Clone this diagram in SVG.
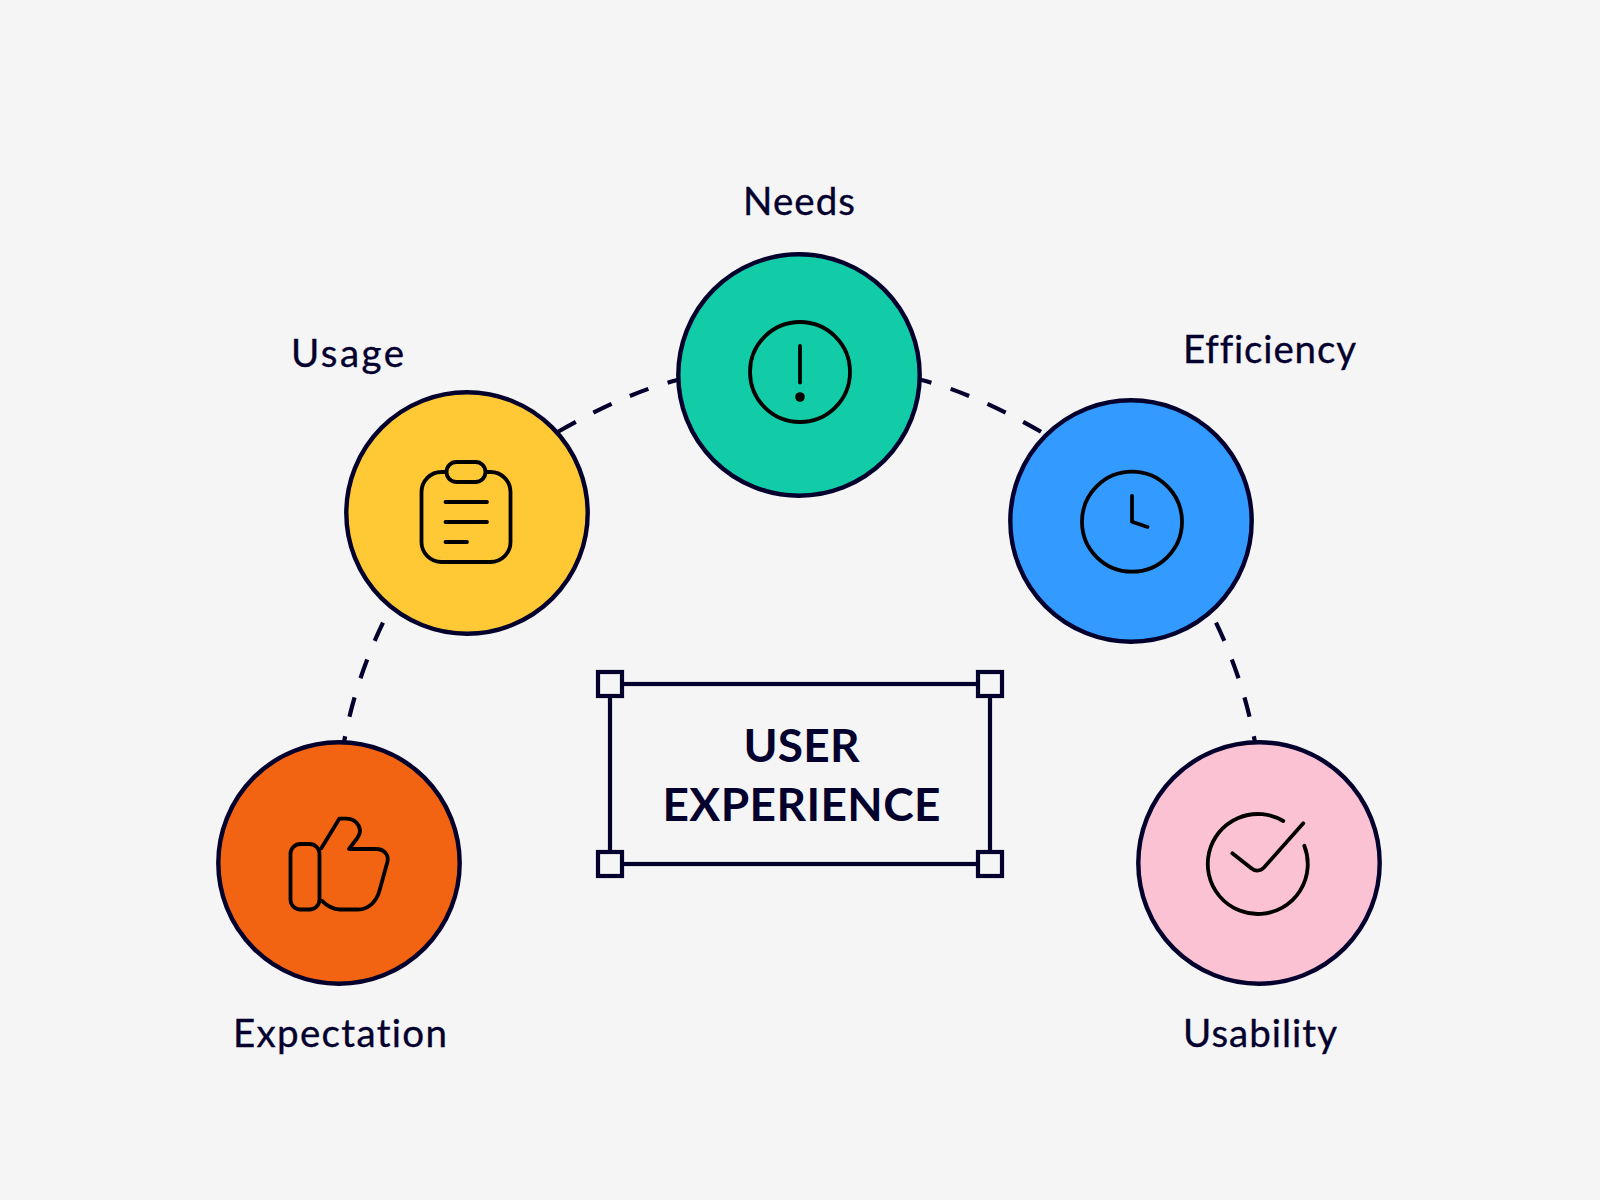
<svg xmlns="http://www.w3.org/2000/svg" width="1600" height="1200" viewBox="0 0 1600 1200">
<style>
.disc{stroke:#04002e;stroke-width:4.4}
.ic{fill:none;stroke:#000;stroke-width:3.8;stroke-linecap:round;stroke-linejoin:round}
.lbl{font-family:"Lato","Liberation Sans",sans-serif;font-size:38.5px;fill:#04002e;stroke:#04002e;stroke-width:.35;font-variant-ligatures:none}
.ttl{font-family:"Lato","Liberation Sans",sans-serif;font-size:46px;font-weight:700;fill:#04002e;text-anchor:middle}
.dash{fill:none;stroke:#04002e;stroke-width:4.2;stroke-dasharray:20 20}
.hd{fill:#f5f5f5;stroke:#04002e;stroke-width:4.2}
</style>
<rect width="1600" height="1200" fill="#f5f5f5"/>
<g id="connectors">
<path class="dash" d="M1041 431.7Q973.6 393.2 921.7 380L905 375"/>
<path class="dash" d="M558 431.7Q625.4 393.2 677.3 380L694 375"/>
<path class="dash" d="M1216 622.7Q1244 681 1255.500 745"/>
<path class="dash" d="M383 622.7Q355 681 343.500 745"/>
</g>
<g id="node-needs">
<circle class="disc" cx="799" cy="375" r="120.7" fill="#12CCA7"/>
<circle class="ic" cx="800" cy="372" r="50"/>
<path class="ic" d="M800 346V382.500"/>
<circle cx="800" cy="397" r="4.800" fill="#000"/>
<text class="lbl" x="743" y="215" textLength="112">Needs</text>
</g>
<g id="node-usage">
<circle class="disc" cx="467" cy="513" r="120.7" fill="#FFC936"/>
<rect class="ic" x="421.500" y="472" width="89" height="90" rx="20"/>
<rect class="ic" x="446.500" y="462" width="39" height="20" rx="10" style="fill:#FFC936"/>
<path class="ic" d="M445.500 502H487M445.500 522H487M445.500 542H467"/>
<text class="lbl" x="291" y="367" textLength="113">Usage</text>
</g>
<g id="node-efficiency">
<circle class="disc" cx="1131" cy="521" r="120.7" fill="#339BFF"/>
<circle class="ic" cx="1132" cy="521.700" r="50"/>
<path class="ic" d="M1132 496V521.700L1147.500 527"/>
<text class="lbl" x="1183" y="363" textLength="173">Efficiency</text>
</g>
<g id="node-expectation">
<circle class="disc" cx="339" cy="863" r="120.7" fill="#F26412"/>
<rect class="ic" x="290.500" y="844" width="29" height="65.500" rx="10"/>
<path class="ic" d="M321.300 848.300L339.300 818.700H346C355 818.700 360 825 360 831C360 834 359 836 357 838.500L349 849H376C384 849 389 855 387.500 861.500L379.500 890.500C376.500 902 368 909.500 358 909.500H340C332 909.500 327 906 321.700 900.700"/>
<text class="lbl" x="233" y="1046.500" textLength="214">Expectation</text>
</g>
<g id="node-usability">
<circle class="disc" cx="1259" cy="863" r="120.7" fill="#FAC2D3"/>
<path class="ic" d="M1283.300 821A50 50 0 1 0 1304.300 845.700"/>
<path class="ic" d="M1232.300 853.300L1251 868C1255 871.500 1260 871.500 1264 867.500L1303.300 823.300"/>
<text class="lbl" x="1183" y="1046.500" textLength="154">Usability</text>
</g>
<g id="node-title">
<rect x="610" y="684" width="380" height="180" fill="none" stroke="#04002e" stroke-width="4.200"/>
<rect class="hd" x="598" y="672" width="24" height="24"/>
<rect class="hd" x="978" y="672" width="24" height="24"/>
<rect class="hd" x="598" y="852" width="24" height="24"/>
<rect class="hd" x="978" y="852" width="24" height="24"/>
<text class="ttl" x="801.500" y="762" textLength="116">USER</text>
<text class="ttl" x="801.500" y="820.500" textLength="278">EXPERIENCE</text>
</g>
</svg>
